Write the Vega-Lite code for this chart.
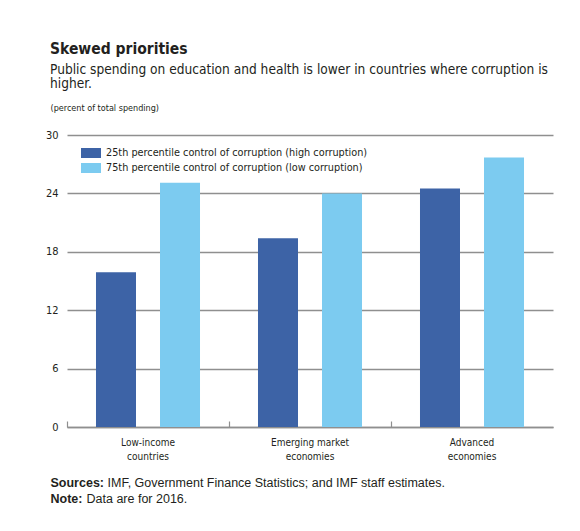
{
  "$schema": "https://vega.github.io/schema/vega-lite/v6.json",
  "width": 486,
  "height": 292,
  "autosize": {"type": "none"},
  "padding": {"left": 67, "top": 135, "right": 27, "bottom": 104},
  "background": "white",
  "config": {
    "view": {"stroke": null},
    "font": "DejaVu Sans Condensed",
    "text": {"color": "#231f20"}
  },
  "title": {
    "text": "Skewed priorities",
    "subtitle": ["Public spending on education and health is lower in countries where corruption is", "higher."],
    "anchor": "start",
    "frame": "group",
    "dx": -17,
    "offset": 12,
    "font": "DejaVu Sans Condensed",
    "fontSize": 15.5,
    "fontWeight": "bold",
    "color": "#231f20",
    "subtitleFont": "DejaVu Sans Condensed",
    "subtitleFontSize": 13.6,
    "subtitleLineHeight": 14.5,
    "subtitleColor": "#231f20",
    "subtitlePadding": 5
  },
  "data": {
    "values": [
      {"group": "Low-income countries", "series": "25th percentile control of corruption (high corruption)", "value": 15.9},
      {"group": "Low-income countries", "series": "75th percentile control of corruption (low corruption)", "value": 25.1},
      {"group": "Emerging market economies", "series": "25th percentile control of corruption (high corruption)", "value": 19.4},
      {"group": "Emerging market economies", "series": "75th percentile control of corruption (low corruption)", "value": 24.0},
      {"group": "Advanced economies", "series": "25th percentile control of corruption (high corruption)", "value": 24.5},
      {"group": "Advanced economies", "series": "75th percentile control of corruption (low corruption)", "value": 27.7}
    ]
  },
  "resolve": {"axis": {"x": "independent", "y": "independent"}},
  "layer": [
    {
      "mark": {"type": "bar"},
      "encoding": {
        "x": {
          "field": "group",
          "type": "nominal",
          "sort": ["Low-income countries", "Emerging market economies", "Advanced economies"],
          "scale": {"paddingInner": 0, "paddingOuter": 0},
          "axis": {
            "orient": "bottom",
            "bandPosition": 0,
            "domainColor": "#8f8f8f",
            "domainWidth": 1.5,
            "ticks": true,
            "tickColor": "#8f8f8f",
            "tickWidth": 1.2,
            "tickSize": -6,
            "labelPadding": 16,
            "labelAngle": 0,
            "labelBaseline": "top",
            "labelFont": "DejaVu Sans Condensed",
            "labelFontSize": 10,
            "labelLineHeight": 14,
            "labelColor": "#231f20",
            "labelExpr": "datum.value == 'Low-income countries' ? ['Low-income', 'countries'] : datum.value == 'Emerging market economies' ? ['Emerging market', 'economies'] : ['Advanced', 'economies']",
            "title": ["Sources:", "Note:"],
            "titleFont": "Liberation Sans",
            "titleFontSize": 12.5,
            "titleFontWeight": "bold",
            "titleLineHeight": 16,
            "titleColor": "#231f20",
            "titleAlign": "left",
            "titleAnchor": "start",
            "titleBaseline": "alphabetic",
            "titleX": -17,
            "titleY": 59
          }
        },
        "xOffset": {
          "field": "series",
          "type": "nominal",
          "scale": {"paddingInner": 0.375, "paddingOuter": 0.453}
        },
        "y": {
          "field": "value",
          "type": "quantitative",
          "scale": {"domain": [0, 30], "nice": false},
          "axis": {
            "values": [0, 6, 12, 18, 24, 30],
            "domain": false,
            "ticks": false,
            "grid": true,
            "gridColor": "#8f8f8f",
            "gridWidth": 1.5,
            "labelPadding": 9,
            "labelFont": "DejaVu Sans Condensed",
            "labelFontSize": 11,
            "labelColor": "#231f20",
            "title": "(percent of total spending)",
            "titleFont": "DejaVu Sans Condensed",
            "titleFontSize": 9,
            "titleFontWeight": "normal",
            "titleColor": "#231f20",
            "titleAngle": 0,
            "titleAlign": "left",
            "titleBaseline": "alphabetic",
            "titleX": -17,
            "titleY": -25
          }
        },
        "color": {
          "field": "series",
          "type": "nominal",
          "scale": {
            "domain": ["25th percentile control of corruption (high corruption)", "75th percentile control of corruption (low corruption)"],
            "range": ["#3d63a6", "#7ccbf0"]
          },
          "legend": {
            "orient": "none",
            "legendX": 14,
            "legendY": 8,
            "title": null,
            "symbolType": "M-1,-0.5H1V0.5H-1Z",
            "symbolSize": 400,
            "symbolStrokeWidth": 0,
            "rowPadding": -4,
            "labelOffset": 5,
            "labelFont": "DejaVu Sans Condensed",
            "labelFontSize": 10.8,
            "labelColor": "#231f20",
            "labelLimit": 400
          }
        }
      }
    },
    {
      "mark": {"type": "bar", "opacity": 0},
      "encoding": {
        "x": {
          "field": "group",
          "type": "nominal",
          "sort": ["Low-income countries", "Emerging market economies", "Advanced economies"],
          "axis": {
            "orient": "top",
            "domain": false,
            "ticks": false,
            "labels": false,
            "grid": false,
            "title": "IMF, Government Finance Statistics; and IMF staff estimates.",
            "titleFont": "Liberation Sans",
            "titleFontSize": 12.5,
            "titleFontWeight": "normal",
            "titleColor": "#231f20",
            "titleAlign": "left",
            "titleAnchor": "start",
            "titleBaseline": "alphabetic",
            "titleX": 40,
            "titleY": 351
          }
        },
        "xOffset": {"field": "series", "type": "nominal"},
        "y": {
          "field": "value",
          "type": "quantitative",
          "axis": {
            "orient": "right",
            "domain": false,
            "ticks": false,
            "labels": false,
            "grid": false,
            "title": "Data are for 2016.",
            "titleFont": "Liberation Sans",
            "titleFontSize": 12.5,
            "titleFontWeight": "normal",
            "titleColor": "#231f20",
            "titleAngle": 0,
            "titleAlign": "left",
            "titleBaseline": "alphabetic",
            "titleX": -467,
            "titleY": 367
          }
        }
      }
    }
  ]
}
